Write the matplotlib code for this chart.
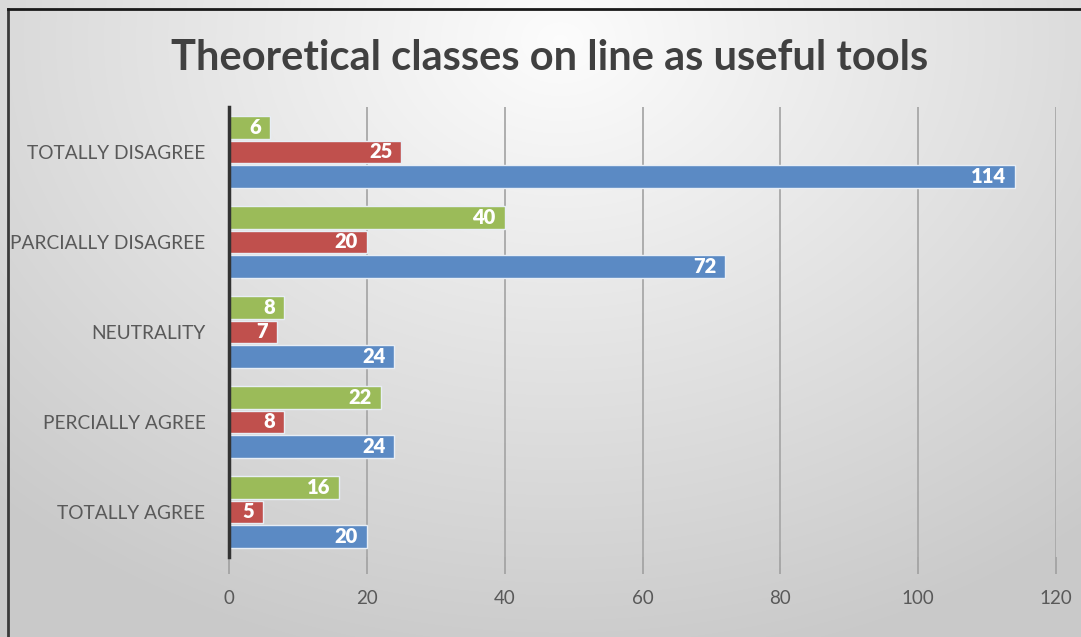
import numpy as np
import matplotlib
matplotlib.use("Agg")
import matplotlib.pyplot as plt
from matplotlib.lines import Line2D

categories = ["TOTALLY DISAGREE", "PARCIALLY DISAGREE", "NEUTRALITY",
              "PERCIALLY AGREE", "TOTALLY AGREE"]
green_vals = [6, 40, 8, 22, 16]
red_vals = [25, 20, 7, 8, 5]
blue_vals = [114, 72, 24, 24, 20]
x_ticks = [0, 20, 40, 60, 80, 100, 120]
title = "Theoretical classes on line as useful tools"

plt.rcParams["font.family"] = ["Lato", "DejaVu Sans"]

W, H = 1081, 637
fig = plt.figure(figsize=(W / 100, H / 100), dpi=100)

# radial gradient background: light near the title, grey toward the edges
bg = fig.add_axes([0, 0, 1, 1], zorder=-10)
yy, xx = np.mgrid[0:H, 0:W]
d = np.sqrt(((xx - 560) / 900.0) ** 2 + ((yy - 40) / 700.0) ** 2)
shade = np.clip(0.99 - 0.22 * d, 0.79, 1.0)
bg.imshow(np.dstack([shade] * 3), aspect="auto", extent=[0, 1, 0, 1])
bg.set_axis_off()

# frame lines on the left and top
fig.add_artist(Line2D([8 / W, 8 / W], [0, 1 - 9 / H], transform=fig.transFigure,
                      color="#3a3a3a", lw=2))
fig.add_artist(Line2D([8 / W, 1], [1 - 9 / H, 1 - 9 / H], transform=fig.transFigure,
                      color="#1a1a1a", lw=2))

ax = fig.add_axes([229 / W, 1 - 557 / H, (1056 - 229) / W, (557 - 107) / H])
ax.patch.set_alpha(0)

y = np.arange(len(categories))
h = 0.25
off = 0.272
series = [(green_vals, -off, "#9BBB59"), (red_vals, 0, "#C0504D"), (blue_vals, off, "#5B8AC4")]
for vals, o, col in series:
    bars = ax.barh(y + o, vals, height=h, color=col, edgecolor="#e8eef5",
                   linewidth=1.0, zorder=3)
    for b, v in zip(bars, vals):
        ax.text(v - 1.3, b.get_y() + b.get_height() / 2, str(v), ha="right",
                va="center", color="white", fontsize=14.5, fontweight="heavy", zorder=4)

ax.set_ylim(len(categories) - 0.5, -0.5)
ax.set_xlim(0, 120)
ax.set_yticks(y)
ax.set_yticklabels(categories, fontsize=13.8, color="#595959")
ax.set_xticks(x_ticks)
ax.set_xticklabels([str(t) for t in x_ticks], fontsize=13.5, color="#595959")
ax.tick_params(axis="y", length=0, pad=17)
ax.tick_params(axis="x", length=12, width=1.2, color="#a0a0a0", pad=12)
ax.grid(axis="x", color="#a8a8a8", lw=1.3, zorder=0)
for s in ["top", "right", "bottom"]:
    ax.spines[s].set_visible(False)
ax.spines["left"].set_color("#333333")
ax.spines["left"].set_linewidth(2.5)
ax.spines["left"].set_zorder(5)

fig.text(550 / W, 1 - 58 / H, title, ha="center", va="center", fontsize=30,
         fontweight="bold", color="#404040")

fig.savefig("out.png", dpi=100)
